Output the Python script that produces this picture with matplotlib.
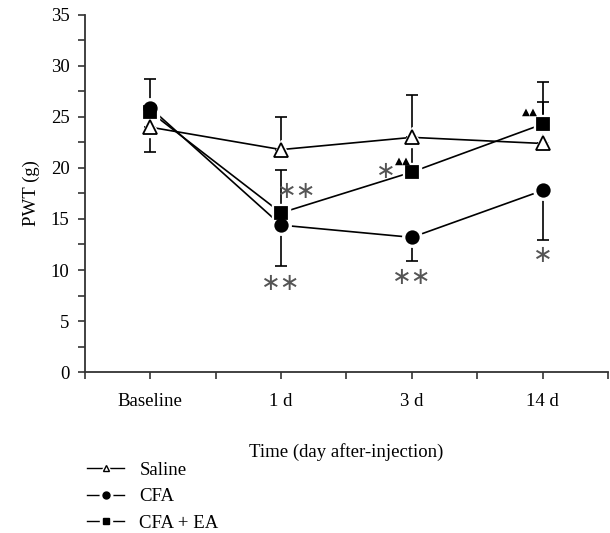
import numpy as np
import matplotlib.pyplot as plt
from matplotlib.ticker import MultipleLocator

plt.rcParams['font.family'] = ['Liberation Serif', 'DejaVu Serif']

# datos
dias = ['Baseline', '1 d', '3 d', '14 d']
saline = [24.0, 21.8, 23.0, 22.4]
saline_lo = [2.4, 0, 0, 0]
saline_hi = [0, 3.2, 4.2, 4.1]
cfa = [25.9, 14.4, 13.2, 17.8]
cfa_lo = [0, 4.0, 2.3, 4.9]
cfa_hi = [0, 0, 0, 0]
cfa_ea = [25.5, 15.6, 19.6, 24.3]
cfa_ea_lo = [0, 0, 0, 0]
cfa_ea_hi = [3.2, 4.2, 3.3, 4.1]

# marcas de significancia: (x, y, texto)
estrellas = [(1, 8.7, '∗∗'), (1.12, 17.7, '∗∗'), (2, 9.3, '∗∗'),
             (1.8, 19.7, '∗'), (3, 11.5, '∗')]
triangulos = [(1.93, 20.7), (2.9, 25.5)]

fig = plt.figure(figsize=(6.1, 5.33), dpi=100)
ax = fig.add_axes([0.139, 0.302, 0.858, 0.670])
x = np.arange(len(dias))

series = [
    (saline, saline_lo, saline_hi, '^', 'white', 10, 'Saline'),
    (cfa, cfa_lo, cfa_hi, 'o', 'black', 9, 'CFA'),
    (cfa_ea, cfa_ea_lo, cfa_ea_hi, 's', 'black', 8, 'CFA + EA'),
]
for y, lo, hi, m, fc, ms, lab in series:
    ax.plot(x, y, '-', color='black', lw=1.2, zorder=1)
    ax.errorbar(x, y, yerr=[lo, hi], fmt='none', ecolor='black',
                elinewidth=1.2, capsize=4, capthick=1.2, zorder=2)
for y, lo, hi, m, fc, ms, lab in series:
    # halo blanco para cortar las lineas cerca del marcador
    ax.plot(x, y, ls='none', marker=m, ms=ms + 5, mfc='white', mec='white', zorder=3)
for y, lo, hi, m, fc, ms, lab in series:
    ax.plot(x, y, ls='none', marker=m, ms=ms, mfc=fc, mec='black', mew=1.3, zorder=4)

for xs, ys, t in estrellas:
    ax.text(xs, ys, t, ha='center', va='center', fontsize=17, color='#555555',
            family='DejaVu Sans', zorder=5)
for xs, ys in triangulos:
    ax.text(xs, ys, '▲▲', ha='center', va='center', fontsize=7.5, color='black',
            family='DejaVu Sans', zorder=5)

ax.set_xlim(-0.5, 3.5)
ax.set_ylim(0, 35)
ax.set_xticks(x)
ax.set_xticklabels(dias)
ax.xaxis.set_minor_locator(MultipleLocator(0.5))
ax.yaxis.set_major_locator(MultipleLocator(5))
ax.yaxis.set_minor_locator(MultipleLocator(2.5))
ax.tick_params(which='both', direction='out', length=5, width=1.2, color='#333333',
               labelsize=13.5, pad=10)
ax.tick_params(axis='y', pad=6)
for s in ['top', 'right']:
    ax.spines[s].set_visible(False)
for s in ['left', 'bottom']:
    ax.spines[s].set_linewidth(1.3)
    ax.spines[s].set_color('#333333')

ax.set_ylabel('PWT (g)', fontsize=13.5, labelpad=8)
ax.set_xlabel('Time (day after-injection)', fontsize=13.5, labelpad=24)

# leyenda: linea + halo blanco + marcador, como en el original
handles = []
for y, lo, hi, m, fc, ms, lab in series:
    linea = plt.Line2D([], [], color='black', lw=1)
    halo = plt.Line2D([], [], ls='none', marker=m, ms=9, mfc='white', mec='white')
    marca = plt.Line2D([], [], ls='none', marker=m, ms=5, mfc=fc, mec='black', mew=1)
    handles.append((linea, halo, marca))
fig.legend(handles, [s[-1] for s in series], loc='upper left',
           bbox_to_anchor=(0.13, 0.148), frameon=False, fontsize=13.5,
           handlelength=2.0, handletextpad=0.8, labelspacing=0.5, borderaxespad=0)

fig.savefig('out.png', dpi=100)
